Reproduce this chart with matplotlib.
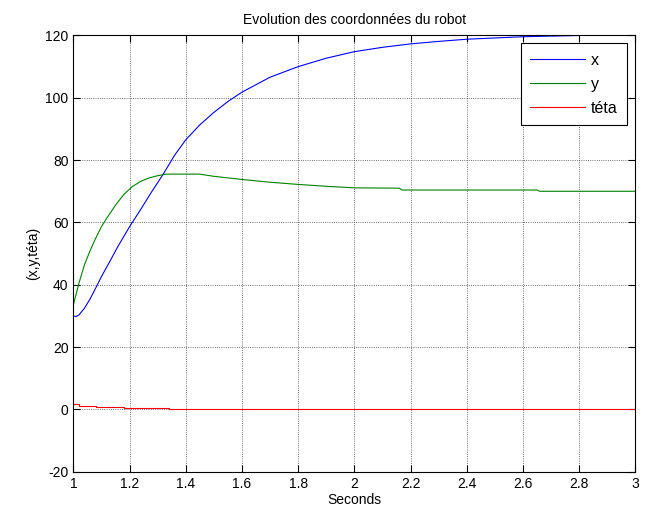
import matplotlib
matplotlib.use("Agg")
import matplotlib.pyplot as plt
import numpy as np

plt.rcParams['font.family'] = ['Liberation Sans', 'DejaVu Sans']
plt.rcParams['axes.unicode_minus'] = False

# x coordinate
t_x = [1.00, 1.01, 1.02, 1.04, 1.06, 1.08, 1.10, 1.13, 1.16, 1.20, 1.24, 1.28,
       1.32, 1.36, 1.40, 1.45, 1.50, 1.55, 1.60, 1.70, 1.80, 1.90, 2.00, 2.10,
       2.20, 2.30, 2.40, 2.50, 2.60, 2.70, 2.80, 2.90, 3.00]
x_vals = [30.0, 29.8, 30.3, 32.5, 35.5, 39.0, 42.6, 47.5, 52.5, 58.6, 64.2, 70.0,
          75.5, 81.5, 86.5, 91.3, 95.3, 98.8, 101.8, 106.6, 110.0, 112.7, 114.8, 116.2,
          117.3, 118.1, 118.8, 119.2, 119.6, 119.8, 120.0, 120.2, 120.4]

# y coordinate
t_y = [1.00, 1.02, 1.04, 1.06, 1.08, 1.10, 1.12, 1.15, 1.18, 1.21, 1.24, 1.27,
       1.30, 1.33, 1.45, 1.50, 1.60, 1.70, 1.80, 1.90, 2.00, 2.16, 2.17, 2.65,
       2.66, 3.00]
y_vals = [33.5, 40.5, 46.5, 51.0, 55.0, 58.6, 61.5, 65.5, 69.0, 71.5, 73.2, 74.3,
          75.0, 75.5, 75.5, 74.8, 73.8, 72.9, 72.2, 71.6, 71.1, 71.0, 70.4, 70.4,
          70.0, 70.0]

# heading angle
t_teta = [1.00, 1.02, 1.08, 1.18, 1.34, 3.00]
teta_vals = [1.7, 1.2, 0.75, 0.3, 0.0, 0.0]

x_ticks = [1, 1.2, 1.4, 1.6, 1.8, 2, 2.2, 2.4, 2.6, 2.8, 3]
y_ticks = [-20, 0, 20, 40, 60, 80, 100, 120]

fig = plt.figure(figsize=(6.54, 5.21), dpi=100)
ax = fig.add_axes([0.1121, 0.0946, 0.8593, 0.8373])

ax.plot(t_x, x_vals, color=(0, 0, 1), lw=0.8, label='x')
ax.plot(t_y, y_vals, color=(0, 0.5, 0), lw=0.8, label='y')
ax.plot(t_teta, teta_vals, color=(1, 0, 0), lw=0.8, drawstyle='steps-post', label='téta')

ax.set_xlim(1, 3)
ax.set_ylim(-20, 120)
ax.set_xticks(x_ticks)
ax.set_xticklabels([f"{v:g}" for v in x_ticks])
ax.set_yticks(y_ticks)
ax.grid(True, linestyle=':', color='0.25', linewidth=0.6)
ax.tick_params(direction='in', top=True, right=True, length=5, labelsize=10, width=0.8)
for s in ax.spines.values():
    s.set_linewidth(0.8)

ax.set_title("Evolution des coordonnées du robot", fontsize=10, pad=8)
ax.set_xlabel("Seconds", fontsize=10, labelpad=2)
ax.set_ylabel("(x,y,téta)", fontsize=10)

leg = ax.legend(loc='upper right', fontsize=11.5, fancybox=False, framealpha=1,
                edgecolor='black', borderaxespad=0.5, handlelength=3.4,
                handletextpad=0.4, labelspacing=0.55, borderpad=0.6)
leg.get_frame().set_linewidth(0.8)

fig.savefig("out.png", dpi=100)
